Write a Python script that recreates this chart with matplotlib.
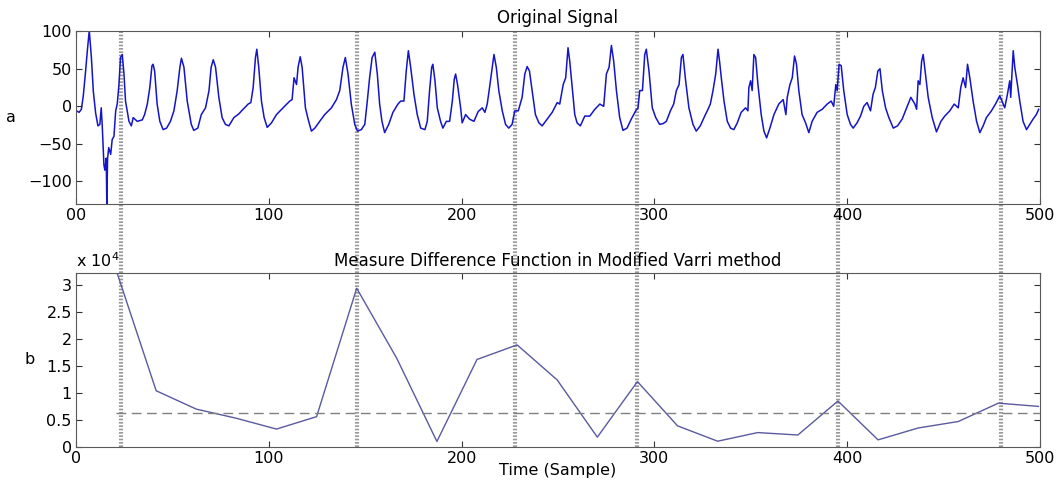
import matplotlib
matplotlib.use("Agg")
import matplotlib.pyplot as plt
import numpy as np

# ---- data ----
# original signal (sample index, amplitude)
sig_t = [0.3, 1.6, 2.8, 3.8, 5.0, 5.9, 6.9, 8.0, 9.0, 10.2, 11.4, 12.4, 13.1, 13.6, 14.5,
         15.0, 15.7, 16.0, 16.4, 17.0, 18.0, 18.8, 19.7, 20.6, 21.4, 22.3, 23.1, 24.0, 24.9,
         25.7, 27.5, 28.7, 29.7, 31.8, 34.4, 35.6, 37.0, 38.3, 39.4, 40.0, 40.8, 42.1, 43.5,
         45.2, 47.0, 49.0, 50.8, 52.5, 53.9, 54.7, 56.0, 57.7, 59.8, 61.1, 63.2, 65.0, 67.2,
         69.0, 70.1, 71.2, 72.4, 74.1, 75.8, 77.5, 79.3, 81.9, 84.5, 85.9, 89.3, 90.7, 91.9,
         93.1, 93.8, 94.8, 96.2, 97.6, 99.2, 101.4, 104.0, 107.4, 110.9, 112.1, 113.1, 114.4,
         115.2, 116.3, 117.3, 119.0, 120.4, 122.1, 123.9, 126.4, 129.0, 132.5, 135.1, 136.8,
         138.5, 139.7, 141.1, 142.8, 144.6, 146.0, 148.0, 149.8, 151.1, 152.3, 153.6, 155.0,
         156.3, 157.5, 158.7, 160.1, 162.2, 164.4, 167.0, 168.4, 170.1, 171.3, 172.4, 173.6,
         175.3, 177.0, 178.8, 181.0, 182.2, 183.4, 184.5, 185.1, 186.2, 187.4, 189.1, 190.3,
         192.1, 193.8, 195.2, 196.2, 196.9, 197.9, 199.5, 200.3, 202.1, 204.1, 206.4, 208.6,
         210.7, 212.1, 213.3, 214.5, 215.9, 216.8, 218.0, 219.3, 221.1, 222.8, 224.5, 226.2,
         227.6, 229.4, 231.4, 232.8, 234.0, 235.2, 236.6, 238.3, 240.1, 241.8, 244.4, 247.0,
         249.6, 250.9, 252.7, 254.0, 255.2, 256.1, 257.5, 258.7, 259.9, 261.6, 263.9, 266.5,
         269.1, 271.7, 273.7, 275.1, 276.5, 277.7, 278.9, 280.3, 282.0, 283.7, 285.8, 288.0,
         290.3, 291.5, 292.4, 293.8, 295.0, 295.8, 297.2, 298.9, 300.7, 302.7, 304.5, 306.2,
         308.3, 310.0, 311.4, 312.8, 314.0, 314.8, 316.2, 317.9, 320.0, 321.7, 323.8, 326.1,
         327.8, 329.0, 330.4, 331.8, 333.0, 333.8, 334.7, 336.1, 337.8, 339.5, 341.2, 343.0,
         345.0, 347.3, 348.5, 349.0, 349.9, 350.7, 351.6, 352.5, 353.7, 355.4, 356.8, 358.2,
         359.9, 362.0, 364.5, 366.8, 368.2, 368.9, 370.3, 371.5, 372.7, 373.7, 374.9, 376.6,
         378.4, 380.1, 381.8, 384.4, 387.0, 389.6, 391.7, 393.0, 394.1, 394.8, 395.8, 396.9,
         398.2, 400.0, 401.7, 403.1, 405.1, 406.9, 408.6, 410.3, 412.1, 413.4, 414.6, 415.9,
         417.0, 418.2, 419.9, 421.6, 423.9, 426.1, 428.5, 430.8, 433.0, 435.1, 436.0, 436.8,
         437.7, 438.6, 439.4, 440.6, 442.0, 444.1, 446.3, 448.6, 450.6, 453.2, 455.5, 457.6,
         458.9, 460.1, 461.4, 462.4, 463.6, 465.3, 467.1, 468.8, 470.5, 472.2, 474.8, 476.9,
         479.1, 480.3, 481.7, 483.1, 484.3, 484.8, 486.1, 486.9, 488.3, 489.5, 491.2, 493.0,
         494.7, 496.4, 498.1, 499.3]
sig_v = [-6, -8, -4, 14, 47, 74, 101, 65, 20, -9, -26, -24, -2, -24, -78,
         -85, -69, -131, -69, -55, -64, -44, -40, -6, 3, 29, 65, 69, 43,
         7, -20, -26, -15, -20, -18, -11, 3, 25, 54, 56, 47, 3, -20,
         -31, -29, -20, -6, 21, 52, 64, 52, 7, -24, -32, -29, -11, -2,
         21, 52, 62, 52, 12, -15, -24, -26, -15, -10, -6, 3, 5, 25,
         65, 76, 52, 7, -15, -28, -22, -11, -2, 7, 9, 38, 29,
         52, 66, 52, -2, -17, -33, -29, -20, -11, -2, 9, 21,
         52, 65, 43, 3, -24, -33, -31, -24, 7, 38, 65, 72,
         43, 3, -20, -35, -24, -8, 3, 7, 7, 47, 74, 52,
         16, -11, -29, -31, -20, 21, 52, 56, 34, -2, -20, -29,
         -20, -20, 7, 36, 43, 29, -2, -22, -11, -17, -20, -7,
         -2, -8, 3, 25, 52, 69, 52, 21, -6, -24, -29, -24,
         -6, -6, 12, 43, 53, 47, 21, -11, -22, -26, -17, -8,
         5, 3, 29, 38, 78, 60, 21, -11, -22, -26, -13, -13,
         -4, 3, 0, 43, 52, 81, 60, 21, -15, -32, -29, -17,
         -6, -2, 21, 21, 69, 76, 47, -2, -15, -24, -23, -20,
         -6, 3, 21, 29, 65, 69, 34, -2, -24, -33, -26, -13,
         -4, 3, 21, 43, 76, 60, 38, 7, -20, -29, -31, -22,
         -8, -2, -6, 25, 34, 21, 69, 65, 29, -11, -33, -42,
         -29, -11, 3, 9, -11, 12, 29, 38, 67, 56, 21, -11,
         -22, -35, -20, -8, -4, 3, 7, 0, 29, 21, 56, 54,
         21, -11, -24, -29, -22, -13, 0, 5, -6, 16, 25, 47,
         50, 21, -2, -15, -29, -26, -17, -2, 12, 3, -4, 34,
         29, 60, 69, 43, 12, -15, -34, -20, -13, -6, 3, -2,
         25, 38, 25, 56, 38, 7, -20, -35, -26, -15, -6, 3,
         14, 7, -2, 16, 34, 12, 74, 52, 29, 7, -20, -31,
         -24, -17, -11, -4]

# measure difference function (one value per window)
b_t = [20.8, 41.6, 62.4, 83.2, 104.0, 124.8, 145.6, 166.4, 187.2, 208.0, 228.8, 249.6,
       270.4, 291.2, 312.0, 332.8, 353.6, 374.4, 395.2, 416.0, 436.8, 457.6, 478.4, 499.2]
b_v = [32800, 10400, 7000, 5300, 3300, 5600, 29400, 16400, 1000, 16200, 18900, 12400,
       1800, 12100, 3900, 1050, 2650, 2200, 8500, 1300, 3500, 4700, 8100, 7500]
threshold = 6350
boundaries = [23.3, 145.8, 227.5, 291.0, 395.3, 480.0]

top_xticklabels = ['00', '100', '200', '300', '400', '500']

plt.rcParams['font.family'] = 'DejaVu Sans'
plt.rcParams['font.size'] = 11.5

fig = plt.figure(figsize=(10.58, 4.8), dpi=100)
ax1 = fig.add_axes([0.0718, 0.575, 0.9112, 0.360])
ax2 = fig.add_axes([0.0718, 0.069, 0.9112, 0.362])

frame = '0.35'
for ax in (ax1, ax2):
    for s in ax.spines.values():
        s.set_color(frame)
    ax.tick_params(direction='in', top=True, right=True, length=4, color='0.2',
                   labelsize=11.5, pad=3)
    ax.set_xlim(0, 500)
    ax.set_xticks([0, 100, 200, 300, 400, 500])

# top panel
ax1.plot(sig_t, sig_v, color='#1414c8', lw=1.1)
ax1.set_ylim(-130, 100)
ax1.set_yticks([-100, -50, 0, 50, 100])
ax1.set_xticklabels(top_xticklabels)
ax1.set_title('Original Signal', fontsize=12, pad=6)
ax1.set_ylabel('a', rotation=0, labelpad=12, va='center')

# bottom panel
ax2.plot(b_t, np.array(b_v) / 1e4, color='#5a5aa0', lw=1.0)
ax2.plot([b_t[0], 500], [threshold / 1e4] * 2, color='0.5', lw=1.0, ls=(0, (7, 4)))
ax2.set_ylim(0, 3.22)
ax2.set_yticks([0, 0.5, 1, 1.5, 2, 2.5, 3])
ax2.set_yticklabels(['0', '0.5', '1', '1.5', '2', '2.5', '3'])
ax2.set_title('Measure Difference Function in Modified Varri method', fontsize=12, pad=5)
ax2.set_xlabel('Time (Sample)', fontsize=11.5, labelpad=-2)
ax2.set_ylabel('b', rotation=0, labelpad=12, va='center')
ax2.text(0.0, 1.02, r'x 10$^4$', transform=ax2.transAxes, fontsize=11.5, va='bottom')

# segment boundaries spanning both panels
for x in boundaries:
    ax1.axvline(x, ymin=-0.40, ymax=1, clip_on=False, color='0.6', lw=3,
                ls=(0, (0.4, 0.4)), zorder=1)
    ax2.axvline(x, color='0.6', lw=3, ls=(0, (0.4, 0.4)), zorder=1)

fig.savefig('out.png', dpi=100, facecolor='w')
